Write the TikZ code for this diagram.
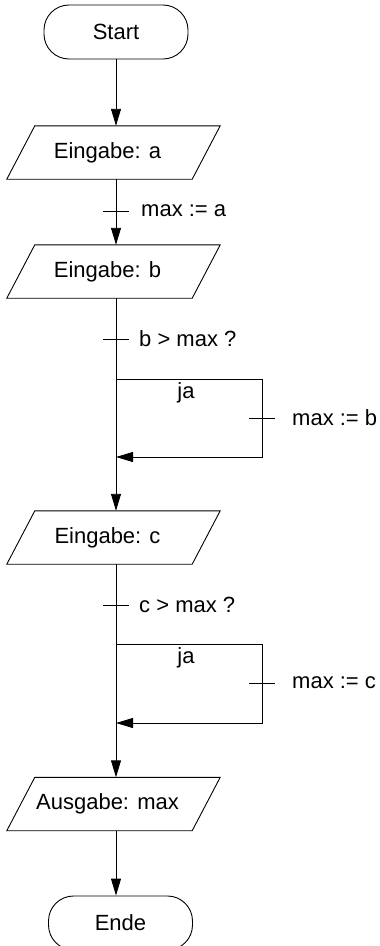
\documentclass[tikz,border=0pt]{standalone}
\usepackage{fontspec}
\setmainfont{Liberation Sans}
\usetikzlibrary{arrows.meta}
\begin{document}
\begin{tikzpicture}[x=1pt,y=-1pt,
  every node/.style={font=\fontsize{22}{26}\selectfont},
  term/.style={draw, rectangle, rounded corners=25pt, minimum width=144pt, minimum height=54pt, inner sep=0pt, line width=0.9pt},
  io/.style={rectangle, minimum width=185pt, minimum height=53pt, inner sep=0pt},
  ioshape/.style={draw, line width=0.9pt},
  conn/.style={line width=0.9pt},
  arr/.style={conn, -{Triangle[length=17pt,width=10pt]}},
  txt/.style={anchor=west, inner sep=0pt},
  tick/.style={conn},
]
\useasboundingbox (0,0) rectangle (380,946);

% nodes
\node[term] (start) at (116,32) {Start};
\node[io, label={[xshift=-6pt]center:Eingabe: a}] (ea) at (113.5,152.5) {};
\node[io, label={[xshift=-6pt]center:Eingabe: b}] (eb) at (113.5,271.5) {};
\node[io, label={[xshift=-6pt]center:Eingabe: c}] (ec) at (113.5,537.5) {};
\node[io, label={[xshift=-6pt]center:Ausgabe: max}] (aus) at (113.5,804) {};
\node[term] (ende) at (120.5,923) {Ende};

% parallelogram outlines
\foreach \n in {ea,eb,ec,aus}{
  \draw[ioshape] ([xshift=14pt]\n.north west) -- ([xshift=14pt]\n.north east)
    -- ([xshift=-14pt]\n.south east) -- ([xshift=-14pt]\n.south west) -- cycle;
}

% coordinates
\coordinate (ta) at (116,211);
\coordinate (tb) at (116,339);
\coordinate (bs) at (116,379);
\coordinate (br1) at (262,379);
\coordinate (br2) at (262,457);
\coordinate (bj) at (116,457);
\coordinate (tbr) at (262,418);
\coordinate (tc) at (116,605);
\coordinate (cs) at (116,644);
\coordinate (cr1) at (262,644);
\coordinate (cr2) at (262,723);
\coordinate (cj) at (116,723);
\coordinate (tcr) at (262,683);

% main connectors
\draw[arr] (start.south) -- (start.south |- ea.north);
\draw[arr] (start.south |- ea.south) -- (start.south |- eb.north);
\draw[arr] (start.south |- eb.south) -- (start.south |- ec.north);
\draw[arr] (start.south |- ec.south) -- (start.south |- aus.north);
\draw[arr] (start.south |- aus.south) -- (start.south |- ende.north);

% branches
\draw[arr] (bs) -- (br1) -- (br2) -- (bj);
\draw[arr] (cs) -- (cr1) -- (cr2) -- (cj);

% ticks
\draw[tick] ([xshift=-13pt]ta) -- ([xshift=13pt]ta);
\draw[tick] ([xshift=-13pt]tb) -- ([xshift=13pt]tb);
\draw[tick] ([xshift=-13pt]tbr) -- ([xshift=13pt]tbr);
\draw[tick] ([xshift=-13pt]tc) -- ([xshift=13pt]tc);
\draw[tick] ([xshift=-13pt]tcr) -- ([xshift=13pt]tcr);

% labels
\node[txt] (la) at (141,211) {max := a};
\node[txt] (lb) at (139,339) {b > max ?};
\node (jb) at (186,393) {ja};
\node[txt] (lmb) at (292,418) {max := b};
\node[txt] (lc) at (139,605) {c > max ?};
\node (jc) at (186,658) {ja};
\node[txt] (lmc) at (292,683) {max := c};
\end{tikzpicture}
\end{document}
